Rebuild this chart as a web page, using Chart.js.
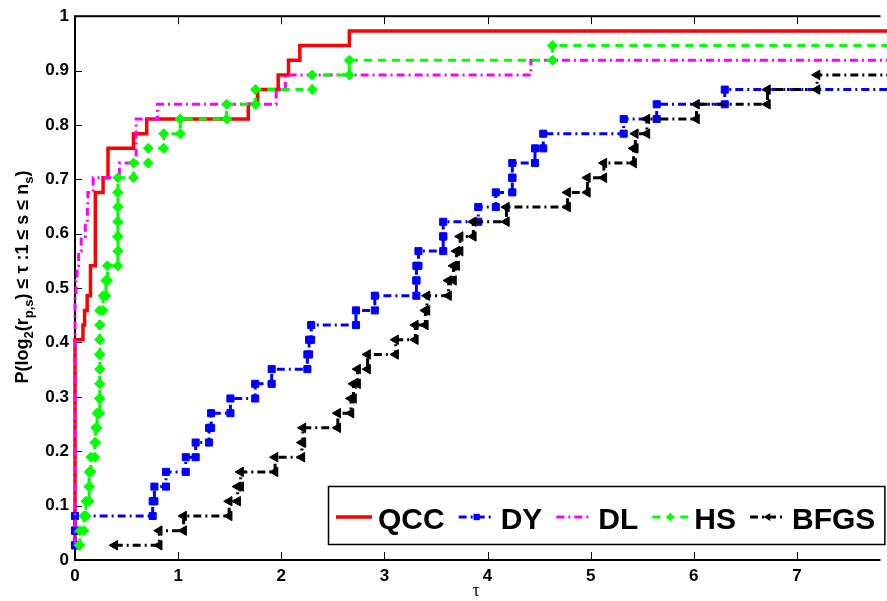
<!DOCTYPE html>
<html>
<head>
<meta charset="utf-8">
<script src="https://cdn.jsdelivr.net/npm/chart.js@4.4.1/dist/chart.umd.min.js"></script>
<style>
  html, body { margin: 0; padding: 0; background: #fff; overflow: hidden; }
  canvas { display: block; }
</style>
</head>
<body>
<canvas id="profile" width="887" height="601"></canvas>
<script>
// Performance profiles of five solvers. Each series lists, in order, the
// log2 ratio tau at which the profile steps up and the level it steps up to.

const qccTau  = [0, 0, 0.077, 0.093, 0.118, 0.15, 0.15, 0.197, 0.272, 0.32, 0.567, 0.695, 1.68, 1.77, 1.97, 2.07, 2.18, 2.66];
const qccProb = [0.027, 0.405, 0.432, 0.459, 0.486, 0.514, 0.541, 0.676, 0.703, 0.757, 0.784, 0.811, 0.838, 0.865, 0.892, 0.919, 0.946, 0.973];

const dyTau  = [0, 0, 0, 0.753, 0.77, 0.882, 1.074, 1.17, 1.30, 1.32, 1.507, 1.747, 1.907, 2.253, 2.27, 2.29,
                2.724, 2.907, 3.31, 3.31, 3.33, 3.57, 3.57, 3.91, 4.08, 4.24, 4.24, 4.46, 4.54, 5.32, 5.64, 6.30];
const dyProb = [0.027, 0.054, 0.081, 0.108, 0.135, 0.162, 0.189, 0.216, 0.243, 0.270, 0.297, 0.324, 0.351, 0.378, 0.405, 0.432,
                0.459, 0.486, 0.514, 0.541, 0.568, 0.595, 0.622, 0.649, 0.676, 0.703, 0.730, 0.757, 0.784, 0.811, 0.838, 0.865];

const dlTau  = [0, 0, 0.01, 0.02, 0.035, 0.06, 0.10, 0.12, 0.125, 0.176, 0.43, 0.593, 0.80, 1.95, 2.04, 4.42];
const dlProb = [0.027, 0.486, 0.514, 0.541, 0.568, 0.595, 0.622, 0.649, 0.676, 0.703, 0.730, 0.811, 0.838, 0.865, 0.892, 0.919];

const hsTau  = [0.04, 0.048, 0.087, 0.106, 0.137, 0.137, 0.154, 0.192, 0.20, 0.214, 0.24, 0.24, 0.24, 0.24, 0.24, 0.24, 0.24,
                0.272, 0.30, 0.314, 0.416, 0.416, 0.416, 0.416, 0.416, 0.416, 0.567, 0.71, 0.86, 1.02, 1.47, 1.75, 2.30, 2.66, 4.63];
const hsProb = [0.027, 0.054, 0.081, 0.108, 0.135, 0.162, 0.189, 0.216, 0.243, 0.270, 0.297, 0.324, 0.351, 0.378, 0.405, 0.432, 0.459,
                0.486, 0.514, 0.541, 0.568, 0.595, 0.622, 0.649, 0.676, 0.703, 0.730, 0.757, 0.784, 0.811, 0.838, 0.865, 0.892, 0.919, 0.946];

const bfgsTau  = [0.385, 0.817, 1.053, 1.495, 1.577, 1.606, 1.94, 2.20, 2.21, 2.548, 2.676, 2.70, 2.74, 2.837, 3.109, 3.30, 3.397,
                  3.413, 3.622, 3.67, 3.70, 3.734, 3.862, 4.183, 4.776, 4.968, 5.128, 5.416, 5.433, 5.545, 6.026, 6.714, 7.195];
const bfgsProb = [0.027, 0.054, 0.081, 0.108, 0.135, 0.162, 0.189, 0.216, 0.243, 0.270, 0.297, 0.324, 0.351, 0.378, 0.405, 0.432, 0.459,
                  0.486, 0.514, 0.541, 0.568, 0.595, 0.622, 0.649, 0.676, 0.703, 0.730, 0.757, 0.784, 0.811, 0.838, 0.865, 0.892];

const solverNames = ['QCC', 'DY', 'DL', 'HS', 'BFGS'];

const xTickValues = [0, 1, 2, 3, 4, 5, 6, 7];
const xTickLabels = ['0', '1', '2', '3', '4', '5', '6', '7'];
const yTickValues = [0, 0.1, 0.2, 0.3, 0.4, 0.5, 0.6, 0.7, 0.8, 0.9, 1];
const yTickLabels = ['0', '0.1', '0.2', '0.3', '0.4', '0.5', '0.6', '0.7', '0.8', '0.9', '1'];
const tauMax = 7.81;

// Expand step data into the corner points of a staircase.
function stairPoints(tau, prob) {
  const pts = [];
  for (let i = 0; i < tau.length; i++) {
    if (i > 0) pts.push({ x: tau[i], y: prob[i - 1] });
    pts.push({ x: tau[i], y: prob[i] });
  }
  pts.push({ x: tauMax + 0.2, y: prob[prob.length - 1] });
  return pts;
}

const FONT = '"Liberation Sans", Arial, Helvetica, sans-serif';
const dashDot = [8, 4, 2, 4];

const datasets = [
  { label: solverNames[0], data: stairPoints(qccTau, qccProb), borderColor: '#ff0000', borderWidth: 3.5,
    borderDash: [], pointRadius: 0, order: 5 },
  { label: solverNames[1], data: stairPoints(dyTau, dyProb), borderColor: '#0000ff', borderWidth: 3,
    borderDash: dashDot, pointStyle: 'rect', pointRadius: 5, pointBackgroundColor: '#0000ff',
    pointBorderColor: '#0000ff', pointBorderWidth: 1, order: 4 },
  { label: solverNames[2], data: stairPoints(dlTau, dlProb), borderColor: '#ff00ff', borderWidth: 3,
    borderDash: dashDot, pointRadius: 0, order: 3 },
  { label: solverNames[3], data: stairPoints(hsTau, hsProb), borderColor: '#00ff00', borderWidth: 3,
    borderDash: [8, 6], pointStyle: 'rectRot', pointRadius: 5, pointBackgroundColor: '#00ff00',
    pointBorderColor: '#00ff00', pointBorderWidth: 1, order: 2 },
  { label: solverNames[4], data: stairPoints(bfgsTau, bfgsProb), borderColor: '#000000', borderWidth: 3,
    borderDash: dashDot, pointStyle: 'triangle', pointRotation: -90, pointRadius: 5.5,
    pointBackgroundColor: '#000000', pointBorderColor: '#000000', pointBorderWidth: 1, order: 1 }
];
datasets.forEach(d => { d.fill = false; d.tension = 0; d.clip = false; d.pointHoverRadius = d.pointRadius; });

// Box axes with inward ticks, drawn under the data.
const boxAxes = {
  id: 'boxAxes',
  beforeDatasetsDraw(chart) {
    const { ctx, chartArea: a, scales } = chart;
    ctx.save();
    ctx.fillStyle = '#000';
    ctx.fillRect(a.left - 1, a.top, 2, a.bottom - a.top + 1);
    ctx.fillRect(a.left - 1, a.bottom - 1, a.right - a.left + 1, 2);
    ctx.fillRect(a.left - 1, a.top - 1, a.right - a.left + 1, 2);
    ctx.strokeStyle = '#000';
    ctx.lineWidth = 1;
    ctx.beginPath();
    xTickValues.forEach(v => {
      const px = Math.round(scales.x.getPixelForValue(v)) + 0.5;
      ctx.moveTo(px, a.bottom); ctx.lineTo(px, a.bottom - 8);
      ctx.moveTo(px, a.top); ctx.lineTo(px, a.top + 8);
    });
    yTickValues.forEach(v => {
      const py = Math.round(scales.y.getPixelForValue(v)) + 0.5;
      ctx.moveTo(a.left, py); ctx.lineTo(a.left + 7, py);
    });
    ctx.stroke();
    ctx.restore();
  }
};

// Axis titles: tau below, probability with subscripts on the left.
const axisTitles = {
  id: 'axisTitles',
  afterDraw(chart) {
    const ctx = chart.ctx;
    ctx.save();
    ctx.fillStyle = '#000';
    ctx.font = '18px "Liberation Serif", "DejaVu Serif", serif';
    ctx.textAlign = 'center';
    ctx.textBaseline = 'alphabetic';
    ctx.fillText('\u03c4', 476, 596);

    const parts = [
      ['P(log', 0], ['2', 1], ['(r', 0], ['p,s', 1],
      [') \u2264 \u03c4 :1 \u2264 s \u2264 n', 0], ['s', 1], [')', 0]
    ];
    const mainFont = 'bold 18px ' + FONT;
    const subFont = 'bold 13px ' + FONT;
    let total = 0;
    parts.forEach(p => { ctx.font = p[1] ? subFont : mainFont; total += ctx.measureText(p[0]).width; });
    ctx.translate(28, 277);
    ctx.rotate(-Math.PI / 2);
    ctx.textAlign = 'left';
    let x = -total / 2;
    parts.forEach(p => {
      ctx.font = p[1] ? subFont : mainFont;
      ctx.fillText(p[0], x, p[1] ? 5 : 0);
      x += ctx.measureText(p[0]).width;
    });
    ctx.restore();
  }
};

function drawMarker(ctx, style, cx, cy, r) {
  ctx.beginPath();
  if (style === 'rect') {
    const s = r * Math.SQRT1_2;
    ctx.rect(cx - s, cy - s, 2 * s, 2 * s);
  } else if (style === 'rectRot') {
    ctx.moveTo(cx - r * 0.75, cy); ctx.lineTo(cx, cy - r); ctx.lineTo(cx + r * 0.75, cy); ctx.lineTo(cx, cy + r);
    ctx.closePath();
  } else if (style === 'triangle') {
    ctx.moveTo(cx - r, cy); ctx.lineTo(cx + r * 0.5, cy - r * 0.87); ctx.lineTo(cx + r * 0.5, cy + r * 0.87);
    ctx.closePath();
  }
  ctx.fill();
}

// Framed legend in the lower right of the plot.
const boxLegend = {
  id: 'boxLegend',
  afterDatasetsDraw(chart) {
    const ctx = chart.ctx;
    ctx.save();
    const left = 328, top = 486, bottom = 544, midY = 517, baseY = 529;
    const sample = 36;
    ctx.font = 'bold 30px ' + FONT;
    const items = [];
    let x = left + 8;
    chart.data.datasets.forEach(ds => {
      const w = ctx.measureText(ds.label).width;
      items.push({ ds, x, tx: x + sample + 6 });
      x = x + sample + 6 + w + 14;
    });
    const right = x - 5;
    ctx.fillStyle = '#fff';
    ctx.fillRect(left, top, right - left, bottom - top);
    ctx.strokeStyle = '#000';
    ctx.lineWidth = 1.5;
    ctx.strokeRect(left + 0.5, top + 0.5, right - left, bottom - top);
    items.forEach(it => {
      const ds = it.ds;
      ctx.strokeStyle = ds.borderColor;
      ctx.lineWidth = ds.borderWidth;
      ctx.setLineDash(ds.borderDash || []);
      ctx.beginPath();
      ctx.moveTo(it.x, midY);
      ctx.lineTo(it.x + sample, midY);
      ctx.stroke();
      ctx.setLineDash([]);
      if (ds.pointRadius > 0) {
        ctx.fillStyle = ds.borderColor;
        drawMarker(ctx, ds.pointStyle, it.x + sample / 2, midY, 4.5);
      }
      ctx.fillStyle = '#000';
      ctx.textBaseline = 'alphabetic';
      ctx.fillText(ds.label, it.tx, baseY);
    });
    ctx.restore();
  }
};

new Chart(document.getElementById('profile'), {
  type: 'line',
  data: { datasets },
  options: {
    responsive: false,
    animation: false,
    devicePixelRatio: 1,
    layout: { padding: { top: 15, right: 0, left: 0, bottom: 0 } },
    plugins: { legend: { display: false }, tooltip: { enabled: false } },
    events: [],
    scales: {
      x: {
        type: 'linear',
        min: 0,
        max: tauMax,
        grid: { display: false, drawTicks: false },
        border: { display: false },
        afterBuildTicks(scale) { scale.ticks = xTickValues.map(v => ({ value: v })); },
        afterFit(scale) { scale.height = 41; },
        ticks: {
          color: '#000',
          padding: 6,
          maxRotation: 0,
          autoSkip: false,
          font: { family: FONT, size: 17, weight: 'bold' },
          callback: (v, i) => xTickLabels[i]
        }
      },
      y: {
        type: 'linear',
        min: 0,
        max: 1,
        grid: { display: false, drawTicks: false },
        border: { display: false },
        afterBuildTicks(scale) { scale.ticks = yTickValues.map(v => ({ value: v })); },
        afterFit(scale) { scale.width = 75; },
        ticks: {
          color: '#000',
          padding: 6,
          autoSkip: false,
          font: { family: FONT, size: 17, weight: 'bold' },
          callback: (v, i) => yTickLabels[i]
        }
      }
    }
  },
  plugins: [boxAxes, boxLegend, axisTitles]
});
</script>
</body>
</html>
